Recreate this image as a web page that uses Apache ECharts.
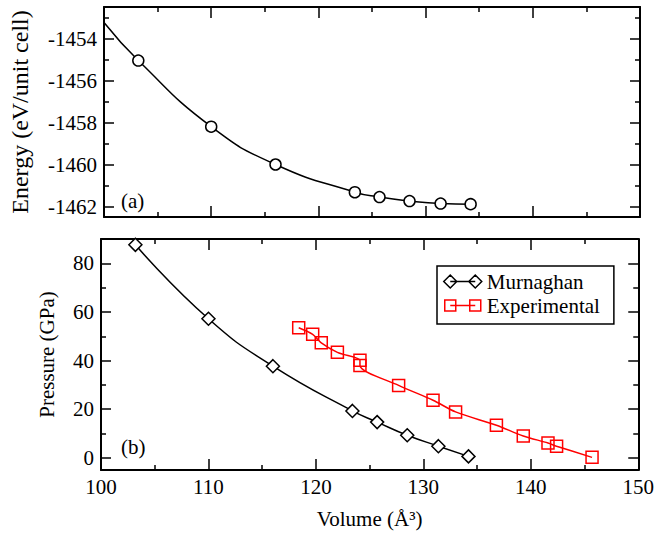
<!DOCTYPE html>
<html><head><meta charset="utf-8">
<script src="https://cdn.jsdelivr.net/npm/echarts@6/dist/echarts.min.js"></script>
<style>html,body{margin:0;padding:0;background:#fff}#c{width:657px;height:534px}</style>
</head><body><div id="c"></div>
<script>
// ---- data ----
const calcVolumes = [103.2, 110.0, 116.0, 123.4, 125.7, 128.5, 131.4, 134.2];
const calcEnergies = [-1455.05, -1458.2, -1460.0, -1461.32, -1461.55, -1461.74, -1461.86, -1461.89];
const energyFitStart = [100, -1453.24];
const murnaghanPressures = [87.6, 57.2, 37.7, 19.3, 14.7, 9.3, 4.8, 0.6];
const expVolumes = [118.4, 119.7, 120.5, 122.0, 124.1, 124.1, 127.7, 130.9, 133.0, 136.8, 139.3, 141.6, 142.4, 145.7];
const expPressures = [53.5, 50.8, 47.3, 43.4, 40.1, 38.0, 29.8, 23.7, 18.9, 13.4, 9.0, 6.1, 4.8, 0.2];
const seriesNames = ['Murnaghan', 'Experimental'];
const panelLabels = ['(a)', '(b)'];
const volumeRange = [100, 150];
const energyRange = [-1462.5, -1452.5];
const pressureRange = [-5, 90];

const FONT = 'Liberation Serif';
const BLACK = '#000';
const RED = '#ff0000';

function xAx(grid, position, showLabel, name) {
  return {
    type: 'value', gridIndex: grid, position: position,
    min: volumeRange[0], max: volumeRange[1], interval: 10,
    axisLine: {show: true, onZero: false, lineStyle: {color: BLACK, width: 2}},
    axisTick: {show: true, inside: true, length: 11, lineStyle: {color: BLACK, width: 1.5}},
    minorTick: {show: true, splitNumber: 2, length: 5, lineStyle: {color: BLACK, width: 1.5}},
    axisLabel: {show: showLabel, color: BLACK, fontSize: 21, fontFamily: FONT, margin: 6,
                formatter: v => String(v)},
    splitLine: {show: false},
    name: name || '', nameLocation: 'middle', nameGap: 38,
    nameTextStyle: {color: BLACK, fontSize: 21, fontFamily: FONT}
  };
}
function yAx(grid, position, range, step, showLabel, name, gap, nameSize) {
  return {
    type: 'value', gridIndex: grid, position: position,
    min: range[0], max: range[1], minInterval: step, maxInterval: step,
    axisLine: {show: true, onZero: false, lineStyle: {color: BLACK, width: 2}},
    axisTick: {show: true, inside: true, length: 10, lineStyle: {color: BLACK, width: 1.5}},
    minorTick: {show: true, splitNumber: 2, length: 5, lineStyle: {color: BLACK, width: 1.5}},
    axisLabel: {show: showLabel, color: BLACK, fontSize: 21, fontFamily: FONT, margin: 7,
                showMinLabel: false, showMaxLabel: false, formatter: v => String(v)},
    splitLine: {show: false},
    name: name || '', nameLocation: 'middle', nameGap: gap || 0,
    nameTextStyle: {color: BLACK, fontSize: nameSize || 21, fontFamily: FONT}
  };
}

const energyData = [{value: energyFitStart, symbol: 'none'}]
  .concat(calcVolumes.map((v, i) => [v, calcEnergies[i]]));
const murnData = calcVolumes.map((v, i) => [v, murnaghanPressures[i]]);
const expData = expVolumes.map((v, i) => [v, expPressures[i]]);

const diamondIcon = 'path://M0,6.5 L6.5,0 L13,6.5 L6.5,13 Z M6.5,6.5 L31.5,6.5 M25,6.5 L31.5,0 L38,6.5 L31.5,13 Z';
const squareIcon = 'path://M1,1 L12,1 L12,12 L1,12 Z M6.5,6.5 L31.5,6.5 M26,1 L37,1 L37,12 L26,12 Z M0,0 L0,0 M38,13 L38,13';

const chart = echarts.init(document.getElementById('c'), null, {renderer: 'svg'});
chart.setOption({
  backgroundColor: '#fff',
  animation: false,
  textStyle: {fontFamily: FONT},
  grid: [
    {left: 101, top: 7, width: 539, height: 210},
    {left: 101, top: 239, width: 539, height: 231}
  ],
  xAxis: [
    xAx(0, 'bottom', false),
    xAx(0, 'top', false),
    xAx(1, 'bottom', true, 'Volume (Å³)'),
    xAx(1, 'top', false)
  ],
  yAxis: [
    yAx(0, 'left', energyRange, 2, true, 'Energy (eV/unit cell)', 72, 24),
    yAx(0, 'right', energyRange, 2, false),
    yAx(1, 'left', pressureRange, 20, true, 'Pressure (GPa)', 44),
    yAx(1, 'right', pressureRange, 20, false)
  ],
  legend: {
    orient: 'vertical', left: 437, top: 266,
    data: [
      {name: seriesNames[0], icon: diamondIcon, itemStyle: {color: '#fff', borderColor: BLACK, borderWidth: 1.5}},
      {name: seriesNames[1], icon: squareIcon, itemStyle: {color: '#fff', borderColor: RED, borderWidth: 1.5}}
    ],
    itemWidth: 38, itemHeight: 13, itemGap: 3,
    padding: [5, 14, 8, 6],
    borderColor: BLACK, borderWidth: 1.5, backgroundColor: '#fff',
    textStyle: {fontSize: 21, fontFamily: FONT, color: BLACK},
    selectedMode: false
  },
  graphic: [
    {type: 'text', left: 121, top: 190, style: {text: panelLabels[0], fontSize: 21, fontFamily: FONT, fill: BLACK}},
    {type: 'text', left: 121, top: 436, style: {text: panelLabels[1], fontSize: 21, fontFamily: FONT, fill: BLACK}}
  ],
  series: [
    {
      name: 'Energy', type: 'line', xAxisIndex: 0, yAxisIndex: 0,
      data: energyData, smooth: 0.5,
      symbol: 'circle', symbolSize: 11,
      lineStyle: {color: BLACK, width: 1.5},
      itemStyle: {color: '#fff', borderColor: BLACK, borderWidth: 1.5}
    },
    {
      name: seriesNames[0], type: 'line', xAxisIndex: 2, yAxisIndex: 2,
      data: murnData, smooth: 0.5,
      symbol: 'diamond', symbolSize: 13,
      lineStyle: {color: BLACK, width: 1.5},
      itemStyle: {color: '#fff', borderColor: BLACK, borderWidth: 1.5}
    },
    {
      name: seriesNames[1], type: 'line', xAxisIndex: 2, yAxisIndex: 2,
      data: expData, smooth: 0.3,
      symbol: 'rect', symbolSize: 12,
      lineStyle: {color: RED, width: 1.5},
      itemStyle: {color: 'rgba(255,255,255,0)', borderColor: RED, borderWidth: 1.5}
    }
  ]
});
</script></body></html>
